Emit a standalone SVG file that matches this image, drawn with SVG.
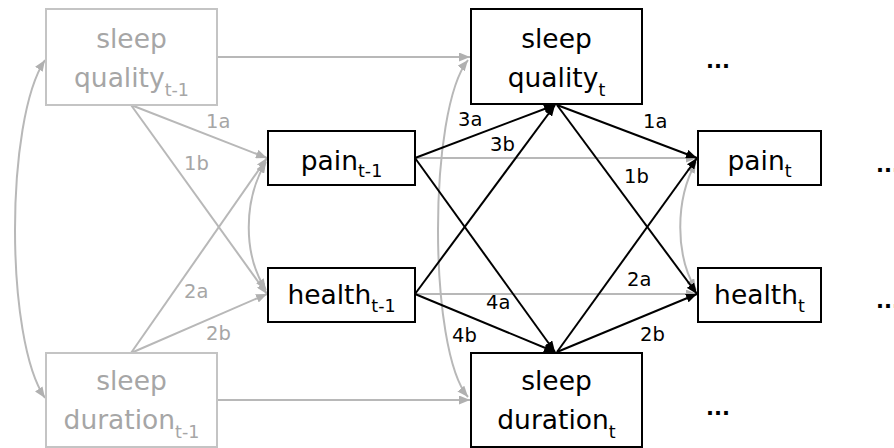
<svg xmlns="http://www.w3.org/2000/svg" width="894" height="448" viewBox="0 0 894 448">
<style>
.t{font-family:"DejaVu Sans",sans-serif;font-size:26.5px;text-anchor:middle}
.s{font-size:17.5px}
.g{fill:#a6a6a6}
.k{fill:#000}
.lab{font-family:"DejaVu Sans",sans-serif;font-size:19.5px}
.boxg{fill:#fff;stroke:#c4c4c4;stroke-width:2}
.boxk{fill:#fff;stroke:#000;stroke-width:2}
.cg{fill:none;stroke:#b8b8b8;stroke-width:2}
.ck{fill:none;stroke:#000;stroke-width:2}
.dots{font-family:"DejaVu Sans",sans-serif;font-size:21px;font-weight:bold}
</style>
<defs>
<marker id="ag" markerUnits="userSpaceOnUse" markerWidth="11" markerHeight="9" refX="11" refY="4.5" orient="auto-start-reverse"><path d="M0,0 L11,4.5 L0,9 z" fill="#b0b0b0"/></marker>
<marker id="ak" markerUnits="userSpaceOnUse" markerWidth="11" markerHeight="9" refX="11" refY="4.5" orient="auto-start-reverse"><path d="M0,0 L11,4.5 L0,9 z" fill="#000"/></marker>
</defs>
<g id="connectors">
<path class="cg" d="M217,57 L470,57" marker-end="url(#ag)"/>
<path class="cg" d="M217,400 L470,400" marker-end="url(#ag)"/>
<path class="cg" d="M45,60 C5,120 5,340 45,398" marker-start="url(#ag)" marker-end="url(#ag)"/>
<path class="cg" d="M131,105 L267,158" marker-end="url(#ag)"/>
<path class="cg" d="M131,105 L267,294" marker-end="url(#ag)"/>
<path class="cg" d="M131,353 L267,158" marker-end="url(#ag)"/>
<path class="cg" d="M131,353 L267,294" marker-end="url(#ag)"/>
<path class="cg" d="M266,162 C243,200 243,255 266,290" marker-start="url(#ag)" marker-end="url(#ag)"/>
<path class="cg" d="M415,158 L697,158" marker-end="url(#ag)"/>
<path class="cg" d="M415,294 L697,294" marker-end="url(#ag)"/>
<path class="cg" d="M468,60 C428,110 428,350 468,397" marker-start="url(#ag)" marker-end="url(#ag)"/>
<path class="cg" d="M696,162 C675,200 675,255 696,290" marker-start="url(#ag)" marker-end="url(#ag)"/>
<path class="ck" d="M415,158 L555,105" marker-end="url(#ak)"/>
<path class="ck" d="M415,294 L555,105" marker-end="url(#ak)"/>
<path class="ck" d="M415,158 L555,352" marker-end="url(#ak)"/>
<path class="ck" d="M415,294 L555,352" marker-end="url(#ak)"/>
<path class="ck" d="M557,105 L697,158" marker-end="url(#ak)"/>
<path class="ck" d="M557,105 L697,294" marker-end="url(#ak)"/>
<path class="ck" d="M557,352 L697,158" marker-end="url(#ak)"/>
<path class="ck" d="M557,352 L697,294" marker-end="url(#ak)"/>
<text class="lab g" x="206" y="128">1a</text>
<text class="lab g" x="184" y="170">1b</text>
<text class="lab g" x="184" y="298">2a</text>
<text class="lab g" x="206" y="340">2b</text>
<text class="lab k" x="458" y="126">3a</text>
<text class="lab k" x="490" y="151">3b</text>
<text class="lab k" x="486" y="309">4a</text>
<text class="lab k" x="452" y="342">4b</text>
<text class="lab k" x="643" y="128">1a</text>
<text class="lab k" x="624" y="183">1b</text>
<text class="lab k" x="627" y="286">2a</text>
<text class="lab k" x="640" y="341">2b</text>
</g>
<g id="sleep_quality_t1">
<rect class="boxg" x="46" y="9" width="171" height="96"/>
<text class="t g" x="131.5" y="48">sleep</text>
<text class="t g" x="131.5" y="87">quality<tspan class="s" dy="9">t-1</tspan></text>
</g>
<g id="sleep_duration_t1">
<rect class="boxg" x="46" y="353" width="171" height="94"/>
<text class="t g" x="131.5" y="390">sleep</text>
<text class="t g" x="131.5" y="429">duration<tspan class="s" dy="9">t-1</tspan></text>
</g>
<g id="pain_t1">
<rect class="boxk" x="268" y="131" width="147" height="54"/>
<text class="t k" x="341.5" y="170">pain<tspan class="s" dy="7">t-1</tspan></text>
</g>
<g id="health_t1">
<rect class="boxk" x="268" y="268" width="147" height="54"/>
<text class="t k" x="341.5" y="304">health<tspan class="s" dy="8">t-1</tspan></text>
</g>
<g id="sleep_quality_t">
<rect class="boxk" x="471" y="9" width="171" height="95"/>
<text class="t k" x="556.5" y="48">sleep</text>
<text class="t k" x="556.5" y="87">quality<tspan class="s" dy="9">t</tspan></text>
</g>
<g id="sleep_duration_t">
<rect class="boxk" x="471" y="353" width="171" height="94"/>
<text class="t k" x="556.5" y="390">sleep</text>
<text class="t k" x="556.5" y="429">duration<tspan class="s" dy="9">t</tspan></text>
</g>
<g id="pain_t">
<rect class="boxk" x="698" y="131" width="123" height="54"/>
<text class="t k" x="759.5" y="170">pain<tspan class="s" dy="7">t</tspan></text>
</g>
<g id="health_t">
<rect class="boxk" x="698" y="268" width="123" height="54"/>
<text class="t k" x="759.5" y="304">health<tspan class="s" dy="8">t</tspan></text>
</g>
<g id="ellipses">
<text class="dots" x="706" y="68">...</text>
<text class="dots" x="706" y="415">...</text>
<text class="dots" x="876" y="172">...</text>
<text class="dots" x="876" y="308">...</text>
</g>
</svg>
